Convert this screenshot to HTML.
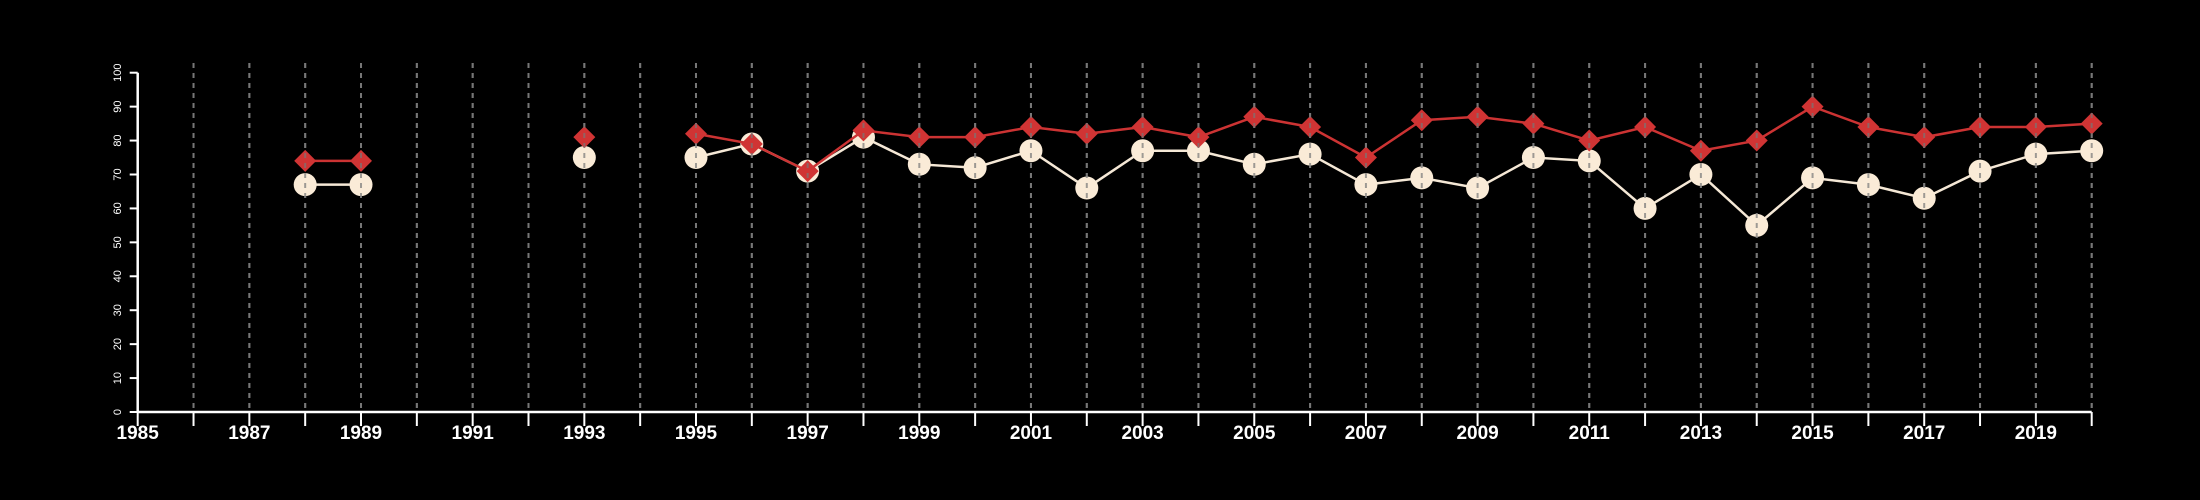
<!DOCTYPE html>
<html><head><meta charset="utf-8"><style>
html,body{margin:0;padding:0;background:#000;}
svg{display:block;font-family:"Liberation Sans",sans-serif;}
</style></head><body>
<svg id="chart" width="2200" height="500" viewBox="0 0 2200 500" xmlns="http://www.w3.org/2000/svg">
<rect width="2200" height="500" fill="#000"/>
<g id="grid"></g>
<g id="axes"></g>
<g id="series"></g>
<g id="grid2"></g>
</svg>
<script>
const years = [1988,1989,1990,1991,1992,1993,1994,1995,1996,1997,1998,1999,2000,2001,2002,2003,2004,2005,2006,2007,2008,2009,2010,2011,2012,2013,2014,2015,2016,2017,2018,2019,2020];
const whiteSeries = [67,67,null,null,null,75,null,75,79,71,81,73,72,77,66,77,77,73,76,67,69,66,75,74,60,70,55,69,67,63,71,76,77];
const redSeries = [74,74,null,null,null,81,null,82,79,71,83,81,81,84,82,84,81,87,84,75,86,87,85,80,84,77,80,90,84,81,84,84,85];
const yTicks = [0,10,20,30,40,50,60,70,80,90,100];
const xMin = 1985, xMax = 2020;

const NS = "http://www.w3.org/2000/svg";
const X0 = 137.7, X1 = 2091.7, Y0 = 412, Y1 = 72.7;
function xs(v){ return X0 + (v - xMin) / (xMax - xMin) * (X1 - X0); }
function ys(v){ return Y0 - v / 100 * (Y0 - Y1); }
function mk(tag, attrs, parent){
  const e = document.createElementNS(NS, tag);
  for (const k in attrs) e.setAttribute(k, attrs[k]);
  parent.appendChild(e); return e;
}
const grid = document.getElementById('grid');
const grid2 = document.getElementById('grid2');
const axes = document.getElementById('axes');
const series = document.getElementById('series');

for (let yr = xMin + 1; yr <= xMax; yr++) {
  const l = mk('line', {x1: xs(yr), x2: xs(yr), y1: 63, y2: Y0, stroke: '#7a7a7a', 'stroke-width': 2, 'stroke-dasharray': '5 5'}, grid);
  
  
  const l2 = mk('line', {x1: xs(yr), x2: xs(yr), y1: 63, y2: Y0, stroke: '#777', 'stroke-width': 2, 'stroke-dasharray': '5 5', opacity: 0.7}, grid2);
  
  
}

let ax = mk('line', {x1: X0, x2: X1, y1: Y0, y2: Y0, stroke: '#fff', 'stroke-width': 2.5}, axes);


for (let yr = xMin; yr <= xMax; yr++) {
  const t = mk('line', {x1: xs(yr), x2: xs(yr), y1: Y0, y2: Y0 + 14, stroke: '#fff', 'stroke-width': 2}, axes);
  
  
  if ((yr - xMin) % 2 === 0) {
    const tx = mk('text', {x: xs(yr), y: 439, fill: '#fff', 'font-size': 19, 'font-weight': 'bold', 'text-anchor': 'middle'}, axes);
    tx.textContent = yr;
    
    
  }
}
let ay = mk('line', {x1: X0, x2: X0, y1: Y0, y2: Y1, stroke: '#fff', 'stroke-width': 2.5}, axes);


yTicks.forEach(v => {
  const t = mk('line', {x1: X0 - 8, x2: X0, y1: ys(v), y2: ys(v), stroke: '#fff', 'stroke-width': 2}, axes);
  
  
  const tx = mk('text', {x: 0, y: 0, fill: '#fff', 'font-size': 11, 'text-anchor': 'middle', transform: `translate(121,${ys(v)}) rotate(-90)`}, axes);
  tx.textContent = v;
  
  
});

function drawLine(vals, color, w, name){
  let seg = [];
  const flush = () => {
    if (seg.length > 1) {
      const p = mk('polyline', {points: seg.join(' '), fill: 'none', stroke: color, 'stroke-width': w}, series);
      
      
    }
    seg = [];
  };
  vals.forEach((v, i) => { if (v == null) flush(); else seg.push(xs(years[i]) + ',' + ys(v)); });
  flush();
}
drawLine(whiteSeries, '#f5e8d6', 2.5, 'white-series-line');
whiteSeries.forEach((v, i) => {
  if (v == null) return;
  const c = mk('circle', {cx: xs(years[i]), cy: ys(v), r: 11.5, fill: '#faebd7'}, series);
  
  
});
drawLine(redSeries, '#cc3333', 2.5, 'red-series-line');
redSeries.forEach((v, i) => {
  if (v == null) return;
  const x = xs(years[i]), y = ys(v), r = 11;
  const d = mk('polygon', {points: `${x},${y-r} ${x+r},${y} ${x},${y+r} ${x-r},${y}`, fill: '#d03434'}, series);
  
  
});
</script>
</body></html>
